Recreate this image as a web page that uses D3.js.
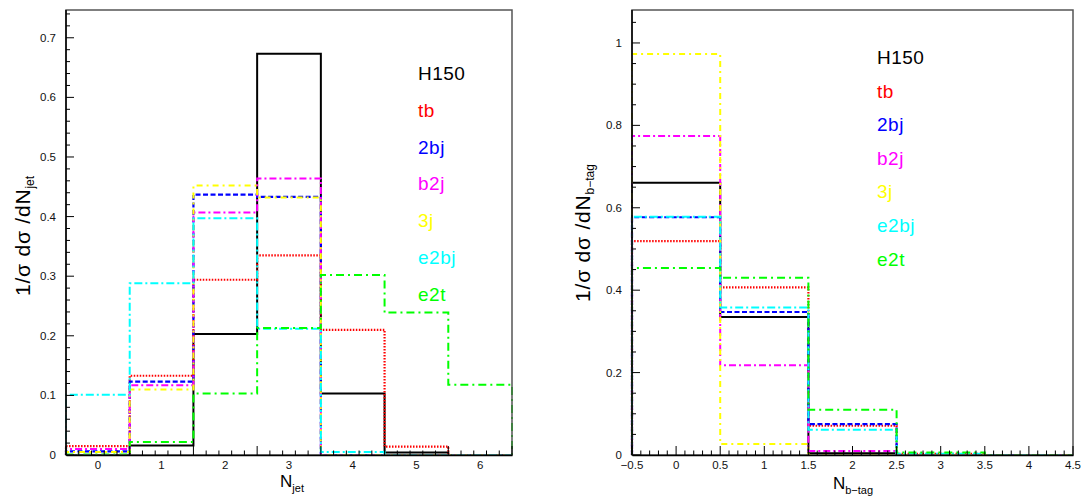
<!DOCTYPE html>
<html>
<head>
<meta charset="utf-8">
<script src="https://cdn.jsdelivr.net/npm/d3@7"></script>
<style>
  html, body { margin: 0; padding: 0; background: #fff; }
  svg { display: block; }
  text { font-family: "Liberation Sans", Arial, sans-serif; }
</style>
</head>
<body>
<svg id="chart" width="1086" height="499"></svg>
<script>
// ---------------- data ----------------
const seriesNames = ["H150", "tb", "2bj", "b2j", "3j", "e2bj", "e2t"];

// Left panel: N_jet bins 0..6
const njetBins = [0, 1, 2, 3, 4, 5, 6];
const njetH150 = [0.000, 0.016, 0.203, 0.673, 0.103, 0.004, 0.000];
const njetTb   = [0.015, 0.133, 0.294, 0.335, 0.210, 0.014, 0.000];
const njet2bj  = [0.006, 0.123, 0.437, 0.433, 0.000, 0.000, 0.000];
const njetB2j  = [0.010, 0.117, 0.407, 0.464, 0.000, 0.000, 0.000];
const njet3j   = [0.005, 0.110, 0.452, 0.432, 0.000, 0.000, 0.000];
const njetE2bj = [0.101, 0.288, 0.397, 0.212, 0.005, 0.000, 0.000];
const njetE2t  = [0.001, 0.022, 0.103, 0.213, 0.302, 0.239, 0.118];

// Right panel: N_b-tag bins 0..4
const nbtagBins = [0, 1, 2, 3, 4];
const nbtagH150 = [0.661, 0.335, 0.004, 0.000, 0.000];
const nbtagTb   = [0.519, 0.407, 0.071, 0.003, 0.000];
const nbtag2bj  = [0.577, 0.347, 0.075, 0.000, 0.000];
const nbtagB2j  = [0.774, 0.218, 0.010, 0.000, 0.000];
const nbtag3j   = [0.973, 0.027, 0.000, 0.000, 0.000];
const nbtagE2bj = [0.578, 0.358, 0.061, 0.003, 0.000];
const nbtagE2t  = [0.454, 0.430, 0.110, 0.006, 0.000];

// tick labels
const njetXTicks  = [0, 1, 2, 3, 4, 5, 6];
const njetYTicks  = [0, 0.1, 0.2, 0.3, 0.4, 0.5, 0.6, 0.7];
const nbtagXTicks = [-0.5, 0, 0.5, 1, 1.5, 2, 2.5, 3, 3.5, 4, 4.5];
const nbtagYTicks = [0, 0.2, 0.4, 0.6, 0.8, 1];

// ---------------- styles ----------------
const styles = {
  "H150": { color: "#000000", dash: null,       width: 2 },
  "tb":   { color: "#ff0000", dash: "1.5,1.5",  width: 2.2 },
  "2bj":  { color: "#0000ff", dash: "5,2.5",    width: 2.2 },
  "b2j":  { color: "#ff00ff", dash: "7,3,2,3",  width: 2 },
  "3j":   { color: "#ffff00", dash: "6,4,2,4",  width: 2 },
  "e2bj": { color: "#00ffff", dash: "8,3,2,3",  width: 2 },
  "e2t":  { color: "#00ff00", dash: "8,4,2,4",  width: 2 }
};

const svg = d3.select("#chart");

function drawPanel(cfg) {
  const x = d3.scaleLinear().domain(cfg.xDomain).range([cfg.left, cfg.right]);
  const y = d3.scaleLinear().domain(cfg.yDomain).range([cfg.bottom, cfg.top]);
  const g = svg.append("g");

  // histograms
  const line = d3.line().x(d => x(d[0])).y(d => y(d[1]));
  cfg.series.forEach(s => {
    const pts = [[cfg.bins[0] - 0.5, 0]];
    cfg.bins.forEach((b, i) => {
      pts.push([b - 0.5, s.values[i]]);
      pts.push([b + 0.5, s.values[i]]);
    });
    pts.push([cfg.bins[cfg.bins.length - 1] + 0.5, 0]);
    const st = styles[s.name];
    g.append("path")
      .attr("d", line(pts))
      .attr("fill", "none")
      .attr("stroke", st.color)
      .attr("stroke-width", st.width)
      .attr("stroke-dasharray", st.dash)
      .attr("stroke-linejoin", "miter");
  });

  // frame
  g.append("rect")
    .attr("x", cfg.left).attr("y", cfg.top)
    .attr("width", cfg.right - cfg.left).attr("height", cfg.bottom - cfg.top)
    .attr("fill", "none").attr("stroke", "#555").attr("stroke-width", 1.5);

  // bottom axis (ticks inside)
  const xMinor = d3.range(cfg.xDomain[0], cfg.xDomain[1] + 1e-9, cfg.xMinorStep);
  const xAxis = d3.axisBottom(x).tickValues(xMinor).tickSize(0).tickFormat("");
  g.append("g").attr("transform", `translate(0,${cfg.bottom})`).call(xAxis)
    .call(a => a.select(".domain").attr("stroke", "#000").attr("stroke-width", 1.5));
  g.selectAll(null).data(xMinor).enter().append("line")
    .attr("x1", d => x(d)).attr("x2", d => x(d))
    .attr("y1", cfg.bottom).attr("y2", d => cfg.bottom - (isMajor(d, cfg.xMajorStep, cfg.xDomain[0]) ? 9 : 4.5))
    .attr("stroke", "#000").attr("stroke-width", 1);
  g.selectAll(null).data(cfg.xTicks).enter().append("text")
    .attr("x", d => x(d)).attr("y", cfg.bottom + 14)
    .attr("text-anchor", "middle").attr("font-size", 11.5).attr("fill", "#111")
    .text(d => cfg.xFmt(d));

  // left axis (ticks inside)
  const yMinor = d3.range(0, cfg.yDomain[1] + 1e-9, cfg.yMinorStep);
  g.append("line").attr("x1", cfg.left).attr("x2", cfg.left)
    .attr("y1", cfg.top).attr("y2", cfg.bottom).attr("stroke", "#000").attr("stroke-width", 1.5);
  g.selectAll(null).data(yMinor).enter().append("line")
    .attr("x1", cfg.left).attr("x2", d => cfg.left + (isMajor(d, cfg.yMajorStep, 0) ? 8 : 4))
    .attr("y1", d => y(d)).attr("y2", d => y(d))
    .attr("stroke", "#000").attr("stroke-width", 1);
  g.selectAll(null).data(cfg.yTicks).enter().append("text")
    .attr("x", cfg.left - 10).attr("y", d => y(d) + 4)
    .attr("text-anchor", "end").attr("font-size", 11.5).attr("fill", "#111")
    .text(d => cfg.yFmt(d));

  // x label
  const xl = g.append("text").attr("x", cfg.xLabelX).attr("y", cfg.xLabelY)
    .attr("text-anchor", "middle").attr("font-size", 17);
  xl.append("tspan").text("N");
  xl.append("tspan").attr("font-size", 11).attr("dy", 5).text(cfg.sub);

  // y label (rotated)
  const yl = g.append("text")
    .attr("transform", `translate(${cfg.yLabelX},${cfg.yLabelY}) rotate(-90)`)
    .attr("text-anchor", "middle").attr("font-size", 21).attr("letter-spacing", 0.8);
  yl.append("tspan").text("1/\u03c3 d\u03c3 /dN");
  yl.append("tspan").attr("font-size", 12).attr("dy", 4).attr("letter-spacing", 0).text(cfg.sub);

  // legend
  cfg.series.forEach((s, i) => {
    g.append("text")
      .attr("x", cfg.legX).attr("y", cfg.legY + i * cfg.legStep)
      .attr("font-size", 19).attr("fill", styles[s.name].color)
      .attr("letter-spacing", 0.5)
      .text(s.name);
  });
}

function isMajor(v, step, origin) {
  const r = (v - origin) / step;
  return Math.abs(r - Math.round(r)) < 1e-6;
}

drawPanel({
  left: 66, right: 512, top: 10, bottom: 455,
  xDomain: [-0.5, 6.5], yDomain: [0, 0.7466],
  bins: njetBins,
  series: [
    { name: "H150", values: njetH150 }, { name: "tb", values: njetTb },
    { name: "2bj", values: njet2bj }, { name: "b2j", values: njetB2j },
    { name: "3j", values: njet3j }, { name: "e2bj", values: njetE2bj },
    { name: "e2t", values: njetE2t }
  ],
  xTicks: njetXTicks, yTicks: njetYTicks,
  xMinorStep: 0.2, xMajorStep: 1, yMinorStep: 0.02, yMajorStep: 0.1,
  xFmt: d => d3.format("d")(d), yFmt: d => d === 0 ? "0" : d3.format(".1f")(d),
  sub: "jet", xLabelX: 292, xLabelY: 487, yLabelX: 30, yLabelY: 236,
  legX: 418, legY: 80, legStep: 36.8
});

drawPanel({
  left: 632, right: 1073, top: 10, bottom: 455,
  xDomain: [-0.5, 4.5], yDomain: [0, 1.08],
  bins: nbtagBins,
  series: [
    { name: "H150", values: nbtagH150 }, { name: "tb", values: nbtagTb },
    { name: "2bj", values: nbtag2bj }, { name: "b2j", values: nbtagB2j },
    { name: "3j", values: nbtag3j }, { name: "e2bj", values: nbtagE2bj },
    { name: "e2t", values: nbtagE2t }
  ],
  xTicks: nbtagXTicks, yTicks: nbtagYTicks,
  xMinorStep: 0.1, xMajorStep: 0.5, yMinorStep: 0.05, yMajorStep: 0.2,
  xFmt: d => d < 0 ? "\u2212" + Math.abs(d) : String(d), yFmt: d => String(d),
  sub: "b\u2212tag", xLabelX: 853, xLabelY: 489, yLabelX: 590, yLabelY: 233,
  legX: 877, legY: 64, legStep: 33.6
});
</script>
</body>
</html>
